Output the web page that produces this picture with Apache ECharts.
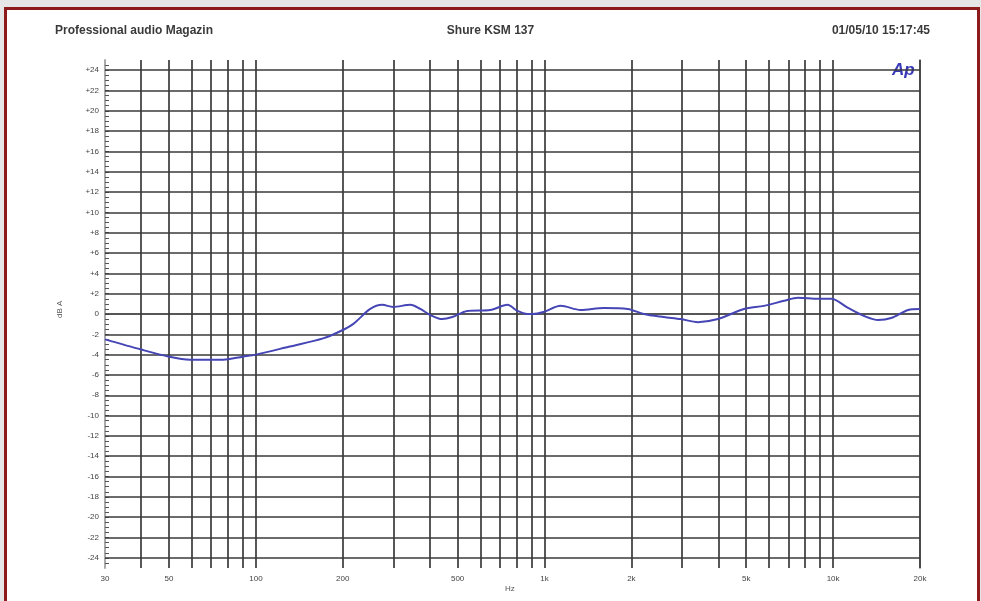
<!DOCTYPE html>
<html><head><meta charset="utf-8">
<script src="https://cdn.jsdelivr.net/npm/echarts@6/dist/echarts.min.js"></script>
<style>
html,body{margin:0;padding:0;background:#e6e6e6;width:981px;height:601px;overflow:hidden}
#frame{position:absolute;left:4px;top:7px;width:970px;height:600px;border:3px solid #8e1b1b;background:#fff}
#c{position:absolute;left:0;top:0;width:981px;height:601px}
</style></head>
<body><div id="frame"></div><div id="c"></div>
<script>
// Frequency response (Hz, dB)
const freqs = [30,40,50,59,77,90,100,131,171,196,217,249,274,299,343,371,402,442,479,540,649,744,806,873,910,992,1137,1334,1603,1943,2207,2590,2966,3398,3990,4911,5758,6761,7556,8872,9844,11270,12820,14330,15890,18200,20000];
const levels = [-2.5,-3.5,-4.2,-4.5,-4.5,-4.2,-4.0,-3.2,-2.4,-1.7,-1.0,0.5,0.9,0.7,0.9,0.5,-0.1,-0.5,-0.3,0.3,0.4,0.9,0.3,0.0,0.0,0.2,0.8,0.4,0.6,0.5,0.0,-0.3,-0.5,-0.8,-0.5,0.5,0.8,1.3,1.6,1.5,1.5,0.6,-0.2,-0.6,-0.4,0.4,0.5];
const xGridFreqs = [40,50,60,70,80,90,100,200,300,400,500,600,700,800,900,1000,2000,3000,4000,5000,6000,7000,8000,9000,10000,20000];
const xLabelFreqs = [30,50,100,200,500,1000,2000,5000,10000,20000];
const yGridLevels = [-24,-22,-20,-18,-16,-14,-12,-10,-8,-6,-4,-2,0,2,4,6,8,10,12,14,16,18,20,22,24];
const titleLeft = 'Professional audio Magazin';
const titleCenter = 'Shure KSM 137';
const titleRight = '01/05/10 15:17:45';

const chart = echarts.init(document.getElementById('c'));
const font = 'Liberation Sans Narrow, Liberation Sans, Arial, sans-serif';
const gridLine = {color:'#3a3a3a', width:1.7, type:'solid'};
const frameAxis = {show:true, lineStyle:{color:'#aaa', width:2}};
chart.setOption({
  animation:false,
  grid:{left:105, right:61, top:60, bottom:33},
  title:[
    {text:titleLeft, left:50, top:20, textStyle:{fontSize:12, fontWeight:'bold', color:'#3a3a3a', fontFamily:font}},
    {text:titleCenter, left:'center', top:20, textStyle:{fontSize:12, fontWeight:'bold', color:'#3a3a3a', fontFamily:font}},
    {text:titleRight, right:46, top:20, textStyle:{fontSize:12, fontWeight:'bold', color:'#3a3a3a', fontFamily:font}}
  ],
  graphic:[
    {type:'text', left:892, top:62, style:{text:'Ap', fill:'#3a3ab8', font:'italic bold 17px Liberation Sans, Arial'}},
    {type:'text', left:505, top:585, style:{text:'Hz', fill:'#555', font:'8px Liberation Sans, Arial'}},
    {type:'text', x:56, y:318, rotation:Math.PI/2, style:{text:'dB A', fill:'#555', font:'8px Liberation Sans, Arial'}}
  ],
  xAxis:[{
    type:'log', logBase:10, min:30, max:20000,
    axisLine:frameAxis,
    axisTick:{show:false},
    splitLine:{show:false},
    minorTick:{show:false},
    axisLabel:{customValues:xLabelFreqs, fontSize:8, color:'#444', fontFamily:font, margin:7,
      formatter:v=> v>=1000 ? (v/1000)+'k' : String(v)}
  },{
    type:'log', logBase:10, min:30, max:20000, position:'top',
    axisLine:frameAxis, axisTick:{show:false}, axisLabel:{show:false}, splitLine:{show:false}
  }],
  yAxis:[{
    type:'value', min:-25, max:25, interval:0.5,
    axisLine:frameAxis,
    axisTick:{show:true, inside:true, length:4, lineStyle:{color:'#555', width:1}},
    splitLine:{show:false},
    axisLabel:{fontSize:8, color:'#444', fontFamily:font, margin:6, showMinLabel:false, showMaxLabel:false,
      formatter:v=> (Math.abs(v%2)===0 && Math.abs(v)<=24) ? (v>0?'+'+v:String(v)) : ''}
  },{
    type:'value', min:-25, max:25, position:'right',
    axisLine:frameAxis, axisTick:{show:false}, axisLabel:{show:false}, splitLine:{show:false}
  }],
  series:[
    {type:'line', data:[], silent:true,
     markLine:{silent:true, symbol:['none','none'], label:{show:false}, lineStyle:gridLine, animation:false,
       data: xGridFreqs.map(f=>({xAxis:f})).concat(yGridLevels.map(l=>({yAxis:l})))}},
    {type:'line', name:'Ch A', data:freqs.map((f,i)=>[f,levels[i]]), smooth:0.3, showSymbol:false,
     lineStyle:{color:'#4545b5', width:2}, z:5}
  ]
});
</script></body></html>
